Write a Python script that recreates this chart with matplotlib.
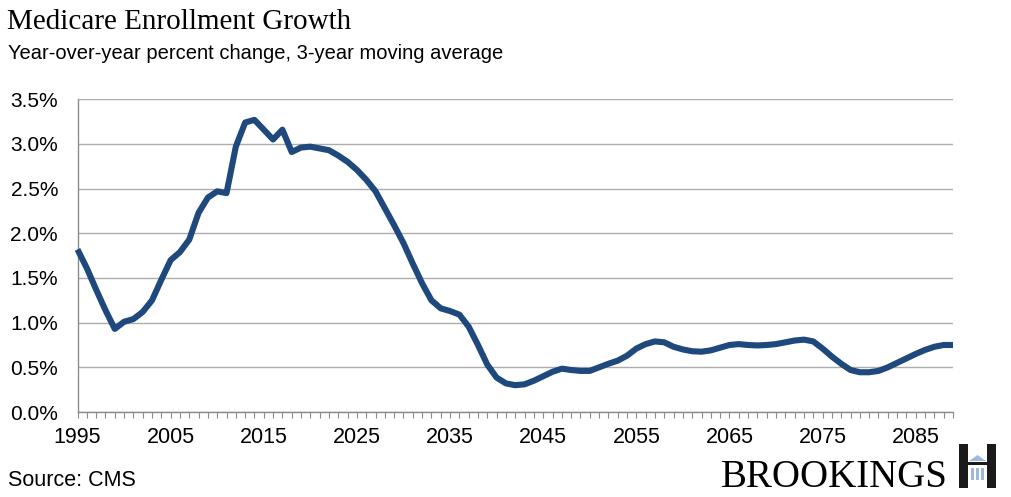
import matplotlib
matplotlib.use("Agg")
import matplotlib.pyplot as plt
from matplotlib.patches import Rectangle, Polygon

# Medicare enrollment growth, 3-year moving average (percent)
years = list(range(1995, 2090))
growth = [
    1.82, 1.61, 1.37, 1.14, 0.93, 1.01, 1.04, 1.12, 1.25, 1.48,
    1.70, 1.79, 1.93, 2.23, 2.40, 2.47, 2.45, 2.97, 3.24, 3.27,
    3.16, 3.05, 3.16, 2.91, 2.96, 2.97, 2.95, 2.93, 2.87, 2.80,
    2.71, 2.60, 2.47, 2.28, 2.09, 1.89, 1.66, 1.44, 1.25, 1.16,
    1.13, 1.09, 0.955, 0.75, 0.53, 0.385, 0.32, 0.30, 0.31, 0.35,
    0.40, 0.45, 0.485, 0.47, 0.46, 0.46, 0.50, 0.54, 0.575, 0.63,
    0.71, 0.76, 0.79, 0.78, 0.73, 0.70, 0.68, 0.675, 0.69, 0.72,
    0.75, 0.76, 0.75, 0.745, 0.75, 0.76, 0.78, 0.80, 0.81, 0.79,
    0.71, 0.62, 0.54, 0.47, 0.445, 0.445, 0.46, 0.50, 0.55, 0.60,
    0.65, 0.695, 0.73, 0.75, 0.75,
]
yticks = [0.0, 0.5, 1.0, 1.5, 2.0, 2.5, 3.0, 3.5]
label_years = list(range(1995, 2090, 10))

W, H = 1012, 497
fig = plt.figure(figsize=(W / 100, H / 100), dpi=100)
ax = fig.add_axes([77.5 / W, (H - 412) / H, (953 - 77.5) / W, (412 - 99.3) / H])

ax.plot(years, growth, color="#1F497D", lw=4.4, solid_joinstyle="round",
        solid_capstyle="butt", clip_on=False, zorder=3)

ax.set_xlim(1995, 2089)
ax.set_ylim(0, 3.5)
ax.set_yticks(yticks)
ax.set_yticklabels(["%.1f%%" % v for v in yticks])
ax.set_xticks(years)
ax.set_xticklabels([str(y) if y in label_years else "" for y in years])

ax.grid(axis="y", color="#ADADAD", lw=1.0)
ax.set_axisbelow(True)
for s in ["top", "right"]:
    ax.spines[s].set_visible(False)
for s in ["left", "bottom"]:
    ax.spines[s].set_color("#8C8C8C")
    ax.spines[s].set_linewidth(1.0)

ax.tick_params(axis="y", length=0, pad=14, labelsize=15, labelcolor="black")
ax.tick_params(axis="x", length=4, width=0.8, color="#8C8C8C", direction="out",
               pad=7, labelsize=15.5, labelcolor="black")
for t in ax.get_xticklabels() + ax.get_yticklabels():
    t.set_fontfamily("Liberation Sans")

fig.text(7 / W, 1 - 9 / H, "Medicare Enrollment Growth", fontsize=21,
         family="Liberation Serif", va="top", ha="left")
fig.text(8 / W, 1 - 44 / H, "Year-over-year percent change, 3-year moving average",
         fontsize=14.5, family="Liberation Sans", va="top", ha="left")
fig.text(8 / W, 1 - 491 / H, "Source: CMS", fontsize=15.5,
         family="Liberation Sans", va="bottom", ha="left")

# Brookings wordmark and logo
fig.text(948 / W, 1 - 487 / H, "BROOKINGS", fontsize=28, family="Liberation Serif",
         va="baseline", ha="right")

def box(x0, y0, x1, y1, color):
    fig.patches.append(Rectangle((x0 / W, 1 - y1 / H), (x1 - x0) / W, (y1 - y0) / H,
                                 transform=fig.transFigure, color=color, lw=0))

dark = "#1A1A1A"
light = "#9DB8DD"
box(959, 444, 968, 488, dark)
box(987, 444, 996, 488, dark)
box(968, 462, 987, 465, dark)
fig.patches.append(Polygon([(969 / W, 1 - 461 / H), (986 / W, 1 - 461 / H),
                            (977.5 / W, 1 - 455 / H)],
                           closed=True, transform=fig.transFigure, color=light, lw=0))
for cx in (971, 976, 981):
    box(cx, 468, cx + 3, 480, light)

fig.savefig("out.png", dpi=100, facecolor="white")
